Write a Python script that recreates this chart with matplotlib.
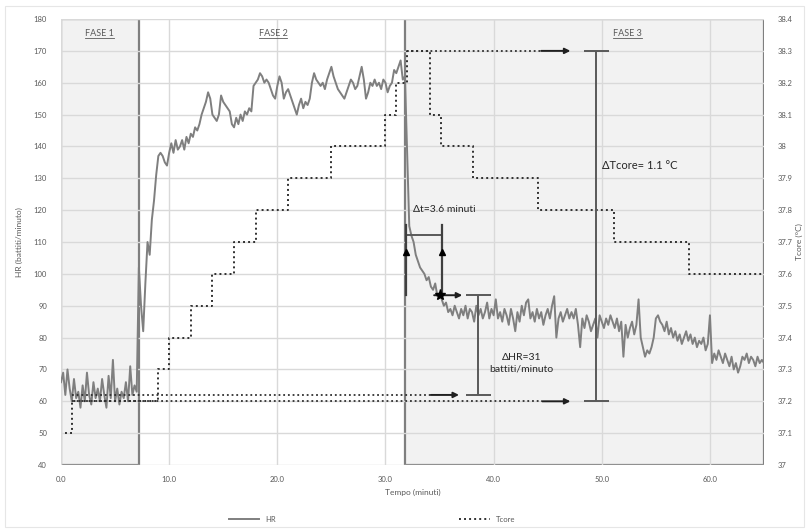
import numpy as np
import matplotlib
matplotlib.use("Agg")
import matplotlib.pyplot as plt
from matplotlib.patches import Rectangle
from matplotlib.lines import Line2D

plt.rcParams['font.family'] = ['Lato', 'DejaVu Sans']

# HR sampled every 0.2 min from 0.0 to 65.0
hr_values = [
    66, 69, 62, 70, 64, 60, 67, 61, 63, 58,
    65, 60, 69, 62, 59, 66, 61, 64, 60, 67,
    62, 58, 68, 61, 73, 60, 64, 59, 63, 61,
    66, 60, 71, 62, 65, 63,
    102, 90, 82, 97, 110, 106, 117, 123, 131, 137,
    138, 137, 135, 134, 138, 141, 138, 142, 139, 140,
    142, 139, 143, 141, 144, 143, 146, 145, 147, 150,
    152, 154, 157, 155, 150, 149, 148, 150, 156, 154,
    153, 152, 151, 147, 146, 149, 147, 150, 148, 151,
    150, 152, 151, 159, 160, 161, 163, 162, 160, 161,
    160, 158, 156, 155, 159, 162, 160, 155, 157, 158,
    156, 154, 152, 150, 153, 155, 152, 154, 153, 155,
    160, 163, 161, 160, 159, 160, 158, 161, 163, 165,
    162, 160, 158, 157, 156, 155, 157, 159, 161, 160,
    158, 159, 162, 165, 161, 155, 157, 160, 159, 161,
    159, 160, 158, 161, 160, 157, 159, 160, 164, 163,
    165, 167, 161, 162, 138, 115, 112, 110, 106, 104,
    102, 101, 100, 98, 99, 96, 95, 97, 93, 94,
    92, 90, 91, 88, 89, 87, 90, 88, 86, 89,
    87, 90, 86, 89, 88, 85, 90, 87, 89, 86,
    88, 91, 86, 89, 87, 92, 86, 88, 85, 89,
    87, 84, 89, 86, 82, 88, 85, 90, 87, 91,
    92, 86, 88, 85, 89, 86, 88, 84, 87, 89,
    86, 90, 93, 80, 86, 88, 85, 87, 89, 86,
    88, 86, 89, 84, 77, 86, 83, 87, 85, 82,
    84, 86, 80, 87, 85, 83, 86, 84, 87, 85,
    83, 86, 82, 85, 74, 84, 80, 83, 85, 81,
    84, 92, 80, 77, 74, 76, 75, 77, 80, 86,
    87, 85, 84, 82, 85, 81, 83, 80, 82, 79,
    81, 78, 80, 82, 79, 81, 78, 80, 77, 79,
    78, 80, 76, 78, 87, 72, 75, 73, 76, 74,
    72, 75, 73, 71, 74, 70, 72, 69, 71, 74,
    73, 75, 72, 74, 73, 71, 74, 72, 73, 72,
]
hr_time = np.arange(len(hr_values)) * 0.2

# Tcore steps (value holds from each time to the next)
tcore_time = [0.4, 1.0, 9.0, 10.0, 12.0, 14.0, 16.0, 18.0, 21.0, 25.0,
              30.0, 31.0, 32.0, 34.1, 35.1, 38.1, 44.1, 51.1, 58.1, 65.0]
tcore_values = [37.1, 37.2, 37.3, 37.4, 37.5, 37.6, 37.7, 37.8, 37.9, 38.0,
                38.1, 38.2, 38.3, 38.1, 38.0, 37.9, 37.8, 37.7, 37.6, 37.6]

phase_labels = ['FASE 1', 'FASE 2', 'FASE 3']
phase_edges = [0.0, 7.2, 31.8, 65.0]

# annotation values
hr_rest = 62
hr_after = 93.3
t_peak = 31.9
t_recovery = 35.2
tcore_rest = 37.2
tcore_peak = 38.3

grey_txt = '#595959'
dark = '#404040'

fig = plt.figure(figsize=(8.09, 5.30), dpi=100)
ax = fig.add_axes([0.0754, 0.1226, 0.869, 0.8415])
ax2 = ax.twinx()

ax.set_xlim(0, 65)
ax.set_ylim(40, 180)
ax2.set_ylim(37, 38.4)

for a in (ax, ax2):
    for s in a.spines.values():
        s.set_visible(False)
    a.tick_params(length=0, labelsize=5.5, labelcolor=grey_txt)

ax.set_xticks(np.arange(0, 61, 10))
ax.set_xticklabels([f'{v:.1f}' for v in np.arange(0, 61, 10)])
ax.set_yticks(np.arange(40, 181, 10))
ax2.set_yticks(np.round(np.arange(37, 38.41, 0.1), 1))
ax2.set_yticklabels([f'{v:g}' for v in np.round(np.arange(37, 38.41, 0.1), 1)])
ax.grid(True, color='#d9d9d9', lw=1.0)
ax.set_axisbelow(True)
ax.tick_params(axis='x', pad=8)
ax.tick_params(axis='y', pad=10)
ax2.tick_params(axis='y', pad=10)

ax.set_xlabel('Tempo (minuti)', fontsize=6, color=grey_txt, labelpad=4)
ax.set_ylabel('HR (battiti/minuto)', fontsize=6, color=grey_txt, labelpad=8)
ax2.set_ylabel('Tcore (°C)', fontsize=6, color=grey_txt, labelpad=2, rotation=90)

# phase boxes
for i in (0, 2):
    ax.add_patch(Rectangle((phase_edges[i], 40), phase_edges[i + 1] - phase_edges[i], 140,
                           facecolor='#f2f2f2', edgecolor='#7f7f7f', lw=1.6, zorder=0.5))

ax.set_zorder(1)
ax2.set_zorder(2)
ax.patch.set_visible(False)

hr_line, = ax.plot(hr_time, hr_values, color='#7f7f7f', lw=1.4, zorder=3)
tc_line, = ax2.step(tcore_time, tcore_values, where='post', color='#303030',
                    lw=1.4, linestyle=(0, (1, 1.6)), zorder=3)

# dotted guide arrows
def guide(axis, y, x0, x1, xs):
    axis.plot([x0, xs], [y, y], color='#303030', lw=1.3, linestyle=(0, (1, 1.6)), zorder=4)
    axis.annotate('', xy=(x1, y), xytext=(xs, y),
                  arrowprops=dict(arrowstyle='-|>', color='#202020', lw=1.4,
                                  mutation_scale=8, shrinkA=0, shrinkB=0), zorder=5)

guide(ax, hr_rest, 1.0, 36.8, 34.2)
guide(ax2, tcore_rest, 1.0, 47.1, 44.5)
guide(ax2, tcore_peak, 32.0, 47.1, 44.4)
ax.annotate('', xy=(37.1, hr_after), xytext=(34.5, hr_after),
            arrowprops=dict(arrowstyle='-|>', color='#202020', lw=1.4,
                            mutation_scale=8, shrinkA=0, shrinkB=0), zorder=5)
ax.plot([35.0], [hr_after], marker='*', color='black', ms=8, zorder=6)

# delta HR bracket
ax.errorbar([38.6], [(hr_rest + hr_after) / 2], yerr=[(hr_after - hr_rest) / 2],
            color=grey_txt, lw=1.4, capsize=9, capthick=1.4, zorder=4)
ax.text(42.6, 72, 'ΔHR=31\nbattiti/minuto', fontsize=7.5, color='#262626',
        ha='center', va='center', linespacing=1.3, zorder=6)

# delta Tcore bracket
ax2.errorbar([49.5], [(tcore_rest + tcore_peak) / 2], yerr=[(tcore_peak - tcore_rest) / 2],
             color=grey_txt, lw=1.4, capsize=9, capthick=1.4, zorder=4)
ax2.text(50.0, 37.94, 'ΔTcore= 1.1 °C', fontsize=8, color='#262626',
         ha='left', va='center', zorder=6)

# delta t bracket
ax.errorbar([(t_peak + t_recovery) / 2], [112.3], xerr=[(t_recovery - t_peak) / 2],
            color=grey_txt, lw=1.4, capsize=3.5, capthick=1.4, zorder=4)
for xt in (t_peak, t_recovery):
    ax.plot([xt, xt], [93.3, 115.3], color=dark, lw=1.6, zorder=4)
    ax.plot([xt], [107], marker='^', color='black', ms=4, zorder=5)
ax.text(32.5, 120.3, 'Δt=3.6 minuti', fontsize=7.5, color='#262626',
        ha='left', va='center', zorder=6)

# phase titles (underlined)
phase_txt = []
for i, lab in enumerate(phase_labels):
    xc = (phase_edges[i] + phase_edges[i + 1]) / 2
    if i == 1:
        xc = 19.6
    if i == 2:
        xc = 52.4
    phase_txt.append(ax.text(xc, 175.6, lab, fontsize=6.5, color=grey_txt,
                             ha='center', va='center', zorder=6))

fig.legend([hr_line, tc_line], ['HR', 'Tcore'], loc='lower center',
           bbox_to_anchor=(0.46, 0.0), ncol=2, frameon=False, fontsize=5.5,
           handlelength=4, columnspacing=24, labelcolor=grey_txt)

fig.patches.append(Rectangle((0.006, 0.006), 0.988, 0.982, transform=fig.transFigure,
                             fill=False, edgecolor='#e6e6e6', lw=0.8))

fig.canvas.draw()
inv = fig.transFigure.inverted()
for t in phase_txt:
    bb = t.get_window_extent()
    (x0, y0), (x1, _) = inv.transform([(bb.x0, bb.y0), (bb.x1, bb.y0)])
    fig.lines.append(Line2D([x0, x1], [y0 - 0.001, y0 - 0.001], transform=fig.transFigure,
                            color=grey_txt, lw=0.6))

fig.savefig('out.png', dpi=100)
